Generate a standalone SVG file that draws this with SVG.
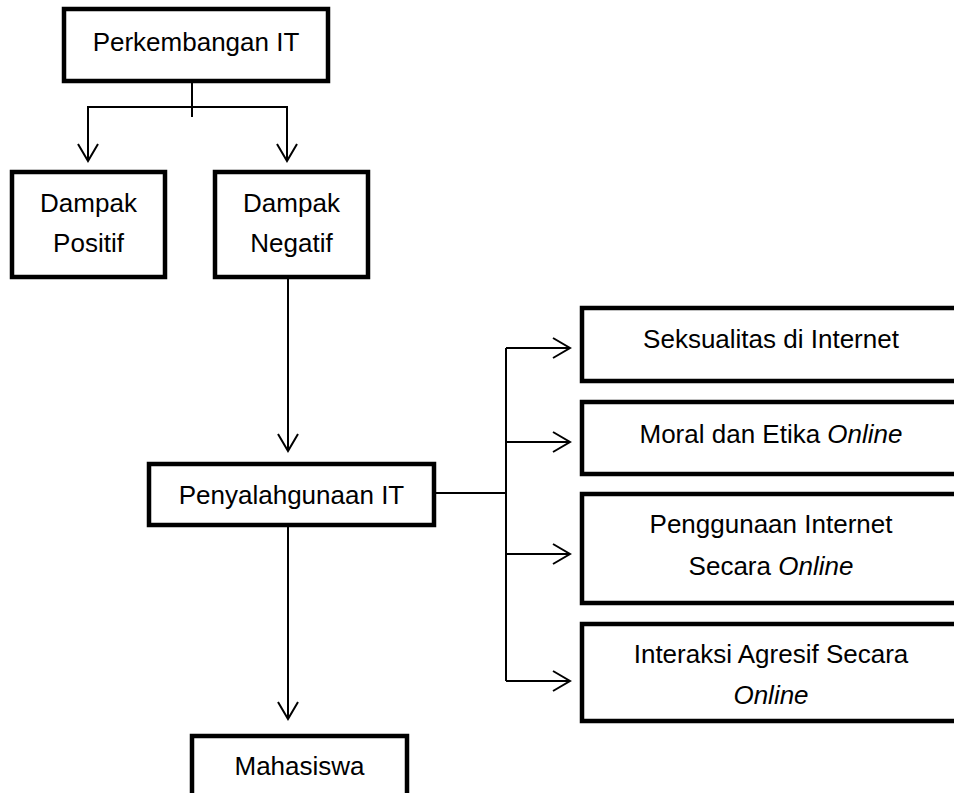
<svg xmlns="http://www.w3.org/2000/svg" width="954" height="793" viewBox="0 0 954 793">
<defs>
<style>
.box{fill:#fff;stroke:#000;stroke-width:4.5}
.t{font-family:"Liberation Sans",Arial,sans-serif;font-size:26px;fill:#000;text-anchor:middle}
.i{font-style:italic}
.c{fill:none;stroke:#000;stroke-width:2}
</style>
<marker id="ah" markerUnits="userSpaceOnUse" markerWidth="24" markerHeight="24" viewBox="-20 -12 24 24" refX="0" refY="0" orient="auto">
<path d="M-17,-10 L0,0 L-17,10" fill="none" stroke="#000" stroke-width="2"/>
</marker>
</defs>
<rect width="954" height="793" fill="#fff"/>
<g id="connectors">
<path class="c" d="M192 83 V117"/>
<path class="c" d="M192 107 H88 V161" marker-end="url(#ah)"/>
<path class="c" d="M192 107 H287 V161" marker-end="url(#ah)"/>
<path class="c" d="M288 279 V451" marker-end="url(#ah)"/>
<path class="c" d="M288 527 V719" marker-end="url(#ah)"/>
<path class="c" d="M436 493 H506"/>
<path class="c" d="M506 348 V681"/>
<path class="c" d="M506 348 H570" marker-end="url(#ah)"/>
<path class="c" d="M506 442 H570" marker-end="url(#ah)"/>
<path class="c" d="M506 554 H570" marker-end="url(#ah)"/>
<path class="c" d="M506 681 H570" marker-end="url(#ah)"/>
</g>
<g id="perkembangan">
<rect class="box" x="64" y="9" width="264" height="72"/>
<text class="t" x="196" y="51">Perkembangan IT</text>
</g>
<g id="dampak-positif">
<rect class="box" x="12" y="172" width="153" height="105"/>
<text class="t" x="88.5" y="212">Dampak</text>
<text class="t" x="88.5" y="252">Positif</text>
</g>
<g id="dampak-negatif">
<rect class="box" x="215" y="172" width="153" height="105"/>
<text class="t" x="291.5" y="212">Dampak</text>
<text class="t" x="291.5" y="252">Negatif</text>
</g>
<g id="penyalahgunaan">
<rect class="box" x="149" y="464" width="285" height="61"/>
<text class="t" x="291.5" y="504">Penyalahgunaan IT</text>
</g>
<g id="mahasiswa">
<rect class="box" x="192" y="736" width="215" height="70"/>
<text class="t" x="299.5" y="775">Mahasiswa</text>
</g>
<g id="seksualitas">
<rect class="box" x="582" y="308" width="380" height="73"/>
<text class="t" x="771" y="348">Seksualitas di Internet</text>
</g>
<g id="moral">
<rect class="box" x="582" y="402" width="380" height="72"/>
<text class="t" x="771" y="443">Moral dan Etika <tspan class="i">Online</tspan></text>
</g>
<g id="penggunaan">
<rect class="box" x="582" y="494" width="380" height="109"/>
<text class="t" x="771" y="533">Penggunaan Internet</text>
<text class="t" x="771" y="575">Secara <tspan class="i">Online</tspan></text>
</g>
<g id="interaksi">
<rect class="box" x="582" y="624" width="380" height="97"/>
<text class="t" x="771" y="663">Interaksi Agresif Secara</text>
<text class="t i" x="771" y="704">Online</text>
</g>
</svg>
